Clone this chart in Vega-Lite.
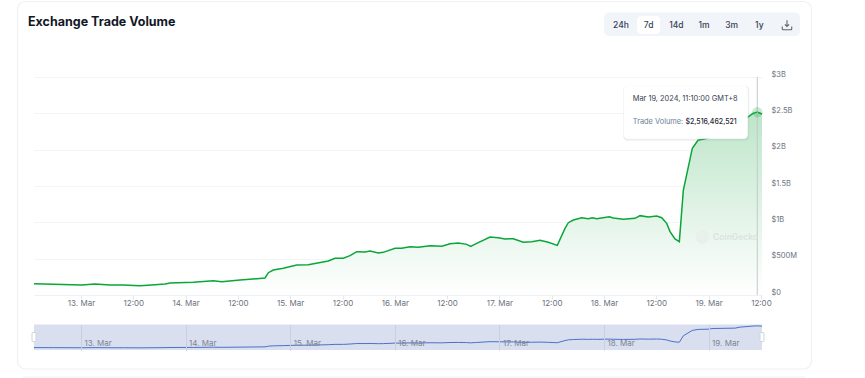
{
"$schema":"https://vega.github.io/schema/vega-lite/v6.json",
"width":728,"height":218,"padding":{"left":34,"top":77,"right":103,"bottom":83},"autosize":{"type":"none"},"background":"#ffffff",
"config":{"view":{"stroke":null},"font":"Inter"},
"datasets":{
"volume":[
{"time":"2024-03-12T13:13","volume":156000000},{"time":"2024-03-12T17:39","volume":147000000},{"time":"2024-03-13T00:10","volume":138000000},{"time":"2024-03-13T03:13","volume":151000000},{"time":"2024-03-13T06:39","volume":138000000},{"time":"2024-03-13T09:43","volume":138000000},{"time":"2024-03-13T13:32","volume":128000000},{"time":"2024-03-13T16:59","volume":142000000},{"time":"2024-03-13T19:16","volume":151000000},{"time":"2024-03-13T20:25","volume":165000000},
{"time":"2024-03-14T01:46","volume":174000000},{"time":"2024-03-14T06:22","volume":197000000},{"time":"2024-03-14T08:17","volume":183000000},{"time":"2024-03-14T12:29","volume":206000000},{"time":"2024-03-14T18:13","volume":234000000},{"time":"2024-03-14T18:59","volume":307000000},{"time":"2024-03-14T20:07","volume":344000000},{"time":"2024-03-14T22:25","volume":367000000},
{"time":"2024-03-15T01:29","volume":413000000},{"time":"2024-03-15T04:09","volume":417000000},{"time":"2024-03-15T08:44","volume":468000000},{"time":"2024-03-15T10:17","volume":505000000},{"time":"2024-03-15T12:11","volume":505000000},{"time":"2024-03-15T13:43","volume":541000000},{"time":"2024-03-15T15:16","volume":596000000},{"time":"2024-03-15T17:10","volume":592000000},{"time":"2024-03-15T18:19","volume":605000000},{"time":"2024-03-15T20:13","volume":578000000},{"time":"2024-03-15T21:22","volume":587000000},
{"time":"2024-03-16T00:03","volume":642000000},{"time":"2024-03-16T01:35","volume":642000000},{"time":"2024-03-16T03:29","volume":665000000},{"time":"2024-03-16T05:23","volume":656000000},{"time":"2024-03-16T08:05","volume":679000000},{"time":"2024-03-16T10:46","volume":670000000},{"time":"2024-03-16T12:40","volume":706000000},{"time":"2024-03-16T14:34","volume":716000000},{"time":"2024-03-16T16:30","volume":697000000},{"time":"2024-03-16T17:25","volume":670000000},{"time":"2024-03-16T18:47","volume":711000000},{"time":"2024-03-16T21:51","volume":798000000},{"time":"2024-03-16T23:45","volume":789000000},
{"time":"2024-03-17T01:17","volume":771000000},{"time":"2024-03-17T03:11","volume":775000000},{"time":"2024-03-17T05:29","volume":725000000},{"time":"2024-03-17T07:25","volume":734000000},{"time":"2024-03-17T09:19","volume":752000000},{"time":"2024-03-17T11:13","volume":725000000},{"time":"2024-03-17T13:17","volume":683000000},{"time":"2024-03-17T15:03","volume":917000000},{"time":"2024-03-17T15:49","volume":995000000},{"time":"2024-03-17T16:58","volume":1032000000},{"time":"2024-03-17T18:53","volume":1064000000},{"time":"2024-03-17T20:24","volume":1050000000},{"time":"2024-03-17T21:19","volume":1064000000},{"time":"2024-03-17T22:20","volume":1050000000},
{"time":"2024-03-18T01:13","volume":1078000000},{"time":"2024-03-18T02:08","volume":1060000000},{"time":"2024-03-18T04:26","volume":1041000000},{"time":"2024-03-18T07:07","volume":1055000000},{"time":"2024-03-18T08:16","volume":1092000000},{"time":"2024-03-18T10:10","volume":1073000000},{"time":"2024-03-18T12:05","volume":1087000000},{"time":"2024-03-18T13:14","volume":1064000000},{"time":"2024-03-18T14:23","volume":986000000},{"time":"2024-03-18T15:09","volume":872000000},{"time":"2024-03-18T16:17","volume":771000000},{"time":"2024-03-18T17:17","volume":734000000},{"time":"2024-03-18T18:12","volume":1440000000},{"time":"2024-03-18T20:16","volume":2020000000},{"time":"2024-03-18T21:34","volume":2130000000},{"time":"2024-03-18T23:52","volume":2160000000},
{"time":"2024-03-19T01:00","volume":2230000000},{"time":"2024-03-19T06:04","volume":2270000000},{"time":"2024-03-19T07:12","volume":2380000000},{"time":"2024-03-19T09:03","volume":2450000000},{"time":"2024-03-19T10:11","volume":2500000000},{"time":"2024-03-19T11:10","volume":2516462521},{"time":"2024-03-19T12:15","volume":2490000000}
],
"hover":[{"time":"2024-03-19T11:10","volume":2516462521,"dateLabel":"Mar 19, 2024, 11:10:00 GMT+8","nameLabel":"Trade Volume:","valueLabel":"$2,516,462,521"}],
"buttons":[{"label":"24h"},{"label":"7d"},{"label":"14d"},{"label":"1m"},{"label":"3m"},{"label":"1y"},{"label":"download"}],
"ends":[{"time":"2024-03-12T13:13"},{"time":"2024-03-19T12:15"}],
"heading":[{"title":"Exchange Trade Volume","watermark":"CoinGecko"}]
},
"resolve":{"scale":{"x":"independent","y":"independent"},"axis":{"x":"independent","y":"independent"}},
"layer":[
{"data":{"name":"heading"},"mark":{"type":"rect","fill":null,"stroke":"#eef0f3","strokeWidth":1.2,"cornerRadius":8},"encoding":{"x":{"value":-16.5},"x2":{"value":777.5},"y":{"value":-75.5},"y2":{"value":292}}},
{"data":{"name":"heading"},"mark":{"type":"rule","stroke":"#eef0f3"},"encoding":{"x":{"value":-11},"x2":{"value":771},"y":{"value":300}}},
{"data":{"name":"heading"},"mark":{"type":"text","align":"left","baseline":"middle","font":"Inter","fontSize":12.5,"fontWeight":700,"fill":"#111827"},"encoding":{"text":{"field":"title"},"x":{"value":-6},"y":{"value":-55.5}}},
{"data":{"name":"heading"},"mark":{"type":"rect","fill":"#f1f4f9","cornerRadius":5},"encoding":{"x":{"value":570},"x2":{"value":766},"y":{"value":-64.5},"y2":{"value":-41}}},
{"data":{"name":"buttons"},
"encoding":{"x":{"field":"label","type":"nominal","sort":null,"axis":null,"scale":{"type":"point","domain":["24h","7d","14d","1m","3m","1y","download"],"range":[587,753],"padding":0}},"y":{"value":-52}},
"layer":[
{"transform":[{"filter":"datum.label==='7d'"}],"mark":{"type":"rect","fill":"#ffffff","width":23,"height":18,"cornerRadius":4}},
{"transform":[{"filter":"datum.label!=='download'"}],"mark":{"type":"text","font":"Inter","fontSize":8.5,"fontWeight":500,"fill":"#334155"},"encoding":{"text":{"field":"label"}}},
{"transform":[{"filter":"datum.label==='download'"}],"mark":{"type":"point","filled":false,"stroke":"#1f2937","strokeWidth":1.1,"size":90,"shape":"M0,-1V0.25M-0.45,-0.15L0,0.3L0.45,-0.15M-1,0.3V0.8Q-1,1,-0.8,1H0.8Q1,1,1,0.8V0.3"}}
]},
{"data":{"name":"volume"},
"encoding":{
"x":{"field":"time","type":"temporal","title":null,"scale":{"domain":[{"year":2024,"month":3,"date":12,"hours":13,"minutes":13},{"year":2024,"month":3,"date":19,"hours":12,"minutes":15}],"nice":false},
"axis":{"orient":"bottom","grid":false,"values":[{"year":2024,"month":3,"date":13},{"year":2024,"month":3,"date":13,"hours":12},{"year":2024,"month":3,"date":14},{"year":2024,"month":3,"date":14,"hours":12},{"year":2024,"month":3,"date":15},{"year":2024,"month":3,"date":15,"hours":12},{"year":2024,"month":3,"date":16},{"year":2024,"month":3,"date":16,"hours":12},{"year":2024,"month":3,"date":17},{"year":2024,"month":3,"date":17,"hours":12},{"year":2024,"month":3,"date":18},{"year":2024,"month":3,"date":18,"hours":12},{"year":2024,"month":3,"date":19},{"year":2024,"month":3,"date":19,"hours":12}],"labelExpr":"hours(datum.value)===12?'12:00':timeFormat(datum.value,'%-d. %b')","labelFont":"Inter","labelFontSize":8,"labelColor":"#6b7280","labelPadding":0,"labelOverlap":false,"tickColor":"#e5e7eb","tickSize":4,"domainColor":"#eef0f3","labelFlush":false}},
"y":{"field":"volume","type":"quantitative","title":null,"scale":{"domain":[0,3000000000],"nice":false},
"axis":{"orient":"right","values":[0,500000000,1000000000,1500000000,2000000000,2500000000,3000000000],"labelExpr":"datum.value===0?'$0':datum.value<1000000000?'$500M':'$'+(datum.value/1000000000)+'B'","labelFont":"Inter","labelFontSize":7.5,"labelColor":"#6b7280","labelPadding":9,"labelOffset":-3,"ticks":false,"domain":false,"grid":true,"gridColor":"#f3f4f6","gridWidth":1}}
},
"layer":[
{"mark":{"type":"area","interpolate":"linear","color":{"gradient":"linear","x1":1,"y1":1,"x2":1,"y2":0,"stops":[{"offset":0,"color":"#ffffff"},{"offset":1,"color":"#bde5c9"}]}}},
{"mark":{"type":"line","interpolate":"linear","stroke":"#09a638","strokeWidth":1.5}},
{"data":{"name":"hover"},"layer":[
{"mark":{"type":"rule","stroke":"#c4c9ce","strokeWidth":1},"encoding":{"y":{"datum":3000000000},"y2":{"datum":0}}},
{"mark":{"type":"circle","fill":"#09a638","opacity":0.22,"size":110}},
{"mark":{"type":"rect","fill":"#9ca3af","opacity":0.18,"width":126,"height":55,"xOffset":-71,"yOffset":1,"cornerRadius":4}},
{"mark":{"type":"rect","fill":"#ffffff","width":124,"height":53,"xOffset":-71.5,"cornerRadius":4}},
{"mark":{"type":"text","align":"left","baseline":"middle","dx":-124.5,"dy":-13,"font":"Inter","fontSize":7.4,"fill":"#374151"},"encoding":{"text":{"field":"dateLabel"}}},
{"mark":{"type":"text","align":"left","baseline":"middle","dx":-124.5,"dy":10,"font":"Inter","fontSize":7.4,"fill":"#6b7f96"},"encoding":{"text":{"field":"nameLabel"}}},
{"mark":{"type":"text","align":"right","baseline":"middle","dx":-20.5,"dy":10,"font":"Inter","fontSize":7,"fontWeight":500,"fill":"#1f2937"},"encoding":{"text":{"field":"valueLabel"}}}
]}
]},
{"data":{"name":"heading"},"mark":{"type":"circle","fill":"#e8ede9","size":190},"encoding":{"x":{"value":668.5},"y":{"value":160}}},
{"data":{"name":"heading"},"mark":{"type":"text","align":"left","baseline":"middle","font":"Inter","fontSize":8.5,"fontWeight":600,"fill":"#dbe3dd"},"encoding":{"text":{"field":"watermark"},"x":{"value":679},"y":{"value":160}}},
{"data":{"name":"volume"},
"encoding":{"x":{"field":"time","type":"temporal","title":null,"scale":{"domain":[{"year":2024,"month":3,"date":12,"hours":13,"minutes":13},{"year":2024,"month":3,"date":19,"hours":12,"minutes":15}],"nice":false},
"axis":{"orient":"bottom","offset":55,"zindex":1,"grid":false,"values":[{"year":2024,"month":3,"date":13},{"year":2024,"month":3,"date":14},{"year":2024,"month":3,"date":15},{"year":2024,"month":3,"date":16},{"year":2024,"month":3,"date":17},{"year":2024,"month":3,"date":18},{"year":2024,"month":3,"date":19}],"format":"%-d. %b","labelAlign":"left","labelOffset":3,"labelBaseline":"middle","labelPadding":18.5,"labelFont":"Inter","labelFontSize":8,"labelColor":"#7b8494","ticks":true,"tickSize":-25.5,"tickColor":"#c8cfdf","domain":false,"labelOverlap":false,"labelFlush":false}}},
"layer":[
{"data":{"name":"heading"},"mark":{"type":"rect","fill":"#d9dfef"},"encoding":{"x":{"value":0},"x2":{"value":728},"y":{"value":247.5},"y2":{"value":273}}},
{"mark":{"type":"line","interpolate":"linear","stroke":"#4a72c8","strokeWidth":1},
"encoding":{"y":{"field":"volume","type":"quantitative","title":null,"axis":null,"scale":{"domain":[-108000000,2720000000],"range":[273,247],"nice":false,"zero":false}}}},
{"data":{"name":"ends"},"mark":{"type":"rect","fill":"#ffffff","stroke":"#ccd3e0","width":4,"height":9,"cornerRadius":1},"encoding":{"y":{"value":260}}}
]}
]
}
